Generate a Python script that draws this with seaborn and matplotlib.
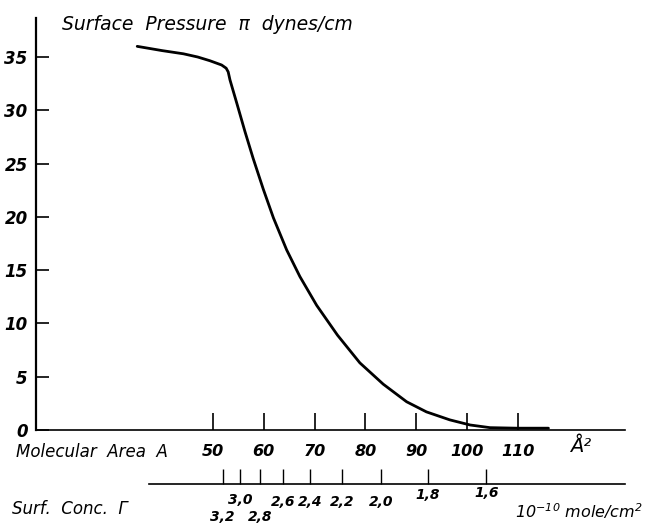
import matplotlib
matplotlib.use("Agg")
import matplotlib.pyplot as plt
import matplotlib.transforms as mtransforms
import seaborn as sns
import pandas as pd

# Surface pressure isotherm: molecular area (Å²) vs surface pressure (dynes/cm)
area = [35.1, 40.0, 44.2, 47.0, 49.4, 51.7, 52.6, 53.0, 53.35, 54.7, 56.3,
        57.9, 59.9, 61.9, 64.5, 67.1, 70.4, 74.5, 78.9, 83.5, 88.1, 92.0,
        96.6, 100.6, 104.5, 109.8, 116.0]
pressure = [36.0, 35.6, 35.3, 35.0, 34.65, 34.25, 33.95, 33.6, 32.85, 30.65,
            28.0, 25.5, 22.6, 19.9, 16.9, 14.4, 11.7, 8.9, 6.3, 4.3,
            2.65, 1.7, 0.95, 0.47, 0.22, 0.17, 0.17]

area_ticks = [50, 60, 70, 80, 90, 100, 110]
pressure_ticks = [0, 5, 10, 15, 20, 25, 30, 35]

# Surface concentration scale (10^-10 mole/cm²), Γ = 166.05 / A
conc_ticks = [3.2, 3.0, 2.8, 2.6, 2.4, 2.2, 2.0, 1.8, 1.6]
conc_labels = ["3,2", "3,0", "2,8", "2,6", "2,4", "2,2", "2,0", "1,8", "1,6"]
conc_label_y = [517, 500, 517, 502, 502, 502, 502, 495, 493]  # staggered label rows (px)
AREA_PER_CONC = 166.05

sns.set_theme(style="white")
plt.rcParams["font.family"] = ["DejaVu Sans"]
plt.rcParams["font.style"] = "italic"
plt.rcParams["text.color"] = "black"
plt.rcParams["mathtext.fontset"] = "custom"
plt.rcParams["mathtext.rm"] = "DejaVu Sans:italic"
plt.rcParams["mathtext.it"] = "DejaVu Sans:italic"

W, H = 650, 526
L, R, T, B = 36, 625, 18, 430
fig = plt.figure(figsize=(W / 100, H / 100), dpi=100)
fig.patch.set_facecolor("white")

ax = fig.add_axes([L / W, 1 - B / H, (R - L) / W, (B - T) / H])
df = pd.DataFrame({"area": area, "pressure": pressure})
sns.lineplot(data=df, x="area", y="pressure", ax=ax, color="black",
             linewidth=2.0, sort=False, estimator=None)

ax.set_xlim(15.19, 131.06)
ax.set_ylim(0, 38.66)
ax.set_xlabel("")
ax.set_ylabel("")
for s in ("top", "right"):
    ax.spines[s].set_visible(False)
ax.spines["left"].set_linewidth(1.6)
ax.spines["bottom"].set_linewidth(1.2)
ax.spines["left"].set_color("black")
ax.spines["bottom"].set_color("black")

ax.set_xticks(area_ticks)
ax.set_xticklabels([str(v) for v in area_ticks], fontsize=11.5,
                   fontweight="bold", style="italic", color="black")
ax.set_yticks(pressure_ticks)
ax.set_yticklabels([str(v) for v in pressure_ticks], fontsize=12,
                   fontweight="bold", style="italic", color="black")
ax.tick_params(axis="x", direction="in", length=12, width=1.2, pad=10,
               colors="black", bottom=True)
ax.tick_params(axis="y", direction="in", length=9, width=1.2, pad=6,
               colors="black", left=True)

# Second scale: surface concentration, drawn below the area axis
gy = 484
axg = fig.add_axes([L / W, 1 - gy / H, (R - L) / W, 0.0001])
axg.set_xlim(ax.get_xlim())
axg.patch.set_alpha(0)
for s in ("top", "right", "left"):
    axg.spines[s].set_visible(False)
axg.spines["bottom"].set_bounds(37.4, 131.06)
axg.spines["bottom"].set_linewidth(1.2)
axg.spines["bottom"].set_color("black")
axg.set_yticks([])
axg.set_xticks([AREA_PER_CONC / g for g in conc_ticks])
axg.set_xticklabels([])
axg.tick_params(axis="x", direction="in", length=11, width=1.0, colors="black",
                bottom=True)
blend = mtransforms.blended_transform_factory(axg.transData, fig.transFigure)
for g, lab, py in zip(conc_ticks, conc_labels, conc_label_y):
    axg.text(AREA_PER_CONC / g, 1 - py / H, lab, transform=blend, ha="center",
             va="center", fontsize=10, fontweight="bold", style="italic")

def ftext(px, py, s, **kw):
    fig.text(px / W, 1 - py / H, s, **kw)

ftext(62, 25, "Surface  Pressure  π  dynes/cm", fontsize=13.5, ha="left",
      va="center", style="italic")
ftext(16, 452, "Molecular  Area  A", fontsize=12, ha="left", va="center",
      style="italic")
ftext(581, 446, "Å²", fontsize=14, ha="center", va="center", style="italic")
ftext(12, 509, "Surf.  Conc.  Γ", fontsize=12, ha="left", va="center",
      style="italic")
ftext(515, 511, r"$10^{-10}$ mole/cm$^{2}$", fontsize=11.5, ha="left",
      va="center", style="italic")

fig.savefig("out.png", dpi=100, facecolor="white")
